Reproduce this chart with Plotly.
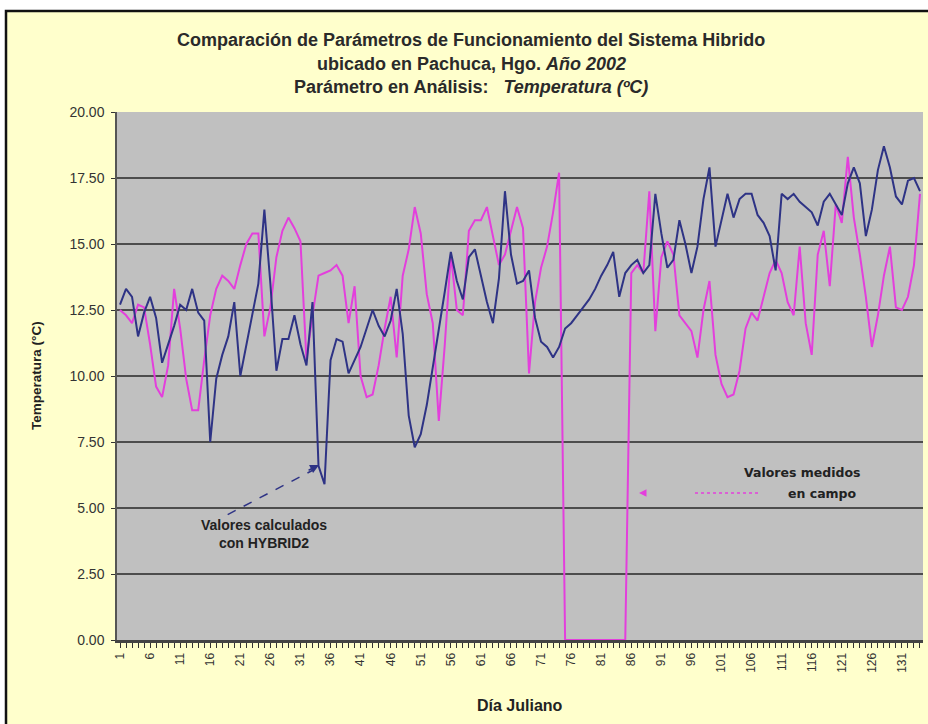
import plotly.graph_objects as go

# dia juliano 1..134
dias = list(range(1, 135))

# valores calculados con HYBRID2
calculado = [
    12.7, 13.3, 13.0, 11.5, 12.4, 13.0, 12.2, 10.5, 11.2, 11.9,
    12.7, 12.5, 13.3, 12.4, 12.1, 7.5, 9.9, 10.8, 11.5, 12.8,
    10.0, 11.2, 12.3, 13.5, 16.3, 13.5, 10.2, 11.4, 11.4, 12.3,
    11.2, 10.4, 12.8, 6.6, 5.9, 10.6, 11.4, 11.3, 10.1, 10.6,
    11.1, 11.8, 12.5, 11.9, 11.5, 12.1, 13.3, 11.6, 8.5, 7.3,
    7.8, 8.9, 10.3, 11.7, 13.2, 14.7, 13.6, 12.9, 14.5, 14.8,
    13.8, 12.8, 12.0, 13.7, 17.0, 14.6, 13.5, 13.6, 14.0, 12.2,
    11.3, 11.1, 10.7, 11.1, 11.8, 12.0, 12.3, 12.6, 12.9, 13.3,
    13.8, 14.2, 14.7, 13.0, 13.9, 14.2, 14.4, 13.9, 14.2, 16.9,
    15.4, 14.1, 14.4, 15.9, 15.0, 13.9, 14.9, 16.7, 17.9, 14.9,
    15.9, 16.9, 16.0, 16.7, 16.9, 16.9, 16.1, 15.8, 15.3, 14.0,
    16.9, 16.7, 16.9, 16.6, 16.4, 16.2, 15.7, 16.6, 16.9, 16.5,
    16.1, 17.3, 17.9, 17.3, 15.3, 16.3, 17.8, 18.7, 17.9, 16.8,
    16.5, 17.4, 17.5, 17.0,
]

# valores medidos en campo
medido = [
    12.5, 12.3, 12.0, 12.7, 12.6, 11.2, 9.6, 9.2, 10.4, 13.3,
    11.8, 9.9, 8.7, 8.7, 10.6, 12.3, 13.3, 13.8, 13.6, 13.3,
    14.2, 15.0, 15.4, 15.4, 11.5, 12.6, 14.5, 15.5, 16.0, 15.6,
    15.1, 10.6, 12.3, 13.8, 13.9, 14.0, 14.2, 13.8, 12.0, 13.4,
    10.0, 9.2, 9.3, 10.4, 11.8, 13.0, 10.7, 13.8, 14.8, 16.4,
    15.4, 13.1, 12.0, 8.3, 11.2, 14.6, 12.5, 12.3, 15.5, 15.9,
    15.9, 16.4, 15.3, 14.2, 14.6, 15.5, 16.4, 15.6, 10.1, 12.8,
    14.1, 14.9, 16.2, 17.7, 0.0, 0.0, 0.0, 0.0, 0.0, 0.0,
    0.0, 0.0, 0.0, 0.0, 0.0, 13.9, 14.2, 13.9, 17.0, 11.7,
    14.5, 15.1, 14.6, 12.3, 12.0, 11.7, 10.7, 12.5, 13.6, 10.8,
    9.7, 9.2, 9.3, 10.2, 11.8, 12.4, 12.1, 13.0, 13.9, 14.4,
    13.9, 12.8, 12.3, 14.9, 12.0, 10.8, 14.6, 15.5, 13.4, 16.5,
    15.8, 18.3, 16.0, 14.6, 13.0, 11.1, 12.3, 13.8, 14.9, 12.6,
    12.5, 13.0, 14.2, 16.9,
]

etiquetas_x = list(range(1, 132, 5))
ticks_y = [0, 2.5, 5, 7.5, 10, 12.5, 15, 17.5, 20]

FONT = "Liberation Sans, Arial, sans-serif"
FONT_W = "DejaVu Sans, Verdana, sans-serif"
AZUL = "#2e3385"
ROSA = "#e33fdc"

W, H = 928, 724
L, R, T, B = 117, 5, 112, 84
PW, PH = W - L - R, H - T - B


def px_x(p):
    return (p - L) / PW


def px_y(p):
    return (H - B - p) / PH


fig = go.Figure()
fig.add_trace(go.Scatter(x=dias, y=medido, mode="lines", name="Valores medidos en campo",
                         line=dict(color=ROSA, width=2)))
fig.add_trace(go.Scatter(x=dias, y=calculado, mode="lines", name="Valores calculados con HYBRID2",
                         line=dict(color=AZUL, width=2)))

fig.update_xaxes(
    range=[0.5, 134.5], tickvals=etiquetas_x, tickangle=-90,
    ticks="outside", ticklen=5, tickcolor="#333", tickwidth=1,
    minor=dict(dtick=1, ticks="outside", ticklen=5, tickcolor="#333", tickwidth=1),
    showgrid=False, zeroline=False, showline=True, linecolor="#444", linewidth=3,
    tickfont=dict(family=FONT, size=12, color="#333"), fixedrange=True, automargin=False)
fig.update_yaxes(
    range=[0, 20], tickvals=ticks_y, tickformat=".2f",
    ticks="outside", ticklen=4, tickcolor="#333", ticklabelstandoff=4,
    showgrid=True, gridcolor="#4d4d4d", gridwidth=2, zeroline=False,
    showline=True, linecolor="#555", linewidth=1.5,
    tickfont=dict(family=FONT, size=14, color="#333"), fixedrange=True, automargin=False)

fig.update_layout(
    width=W, height=H, margin=dict(l=L, r=R, t=T, b=B),
    paper_bgcolor="#ffffcc", plot_bgcolor="#c0c0c0",
    showlegend=False, font=dict(family=FONT, color="#222"),
)

# marco exterior
fig.add_shape(type="rect", xref="paper", yref="paper", x0=px_x(0), x1=px_x(W), y0=px_y(0), y1=px_y(10),
              fillcolor="white", line_width=0, layer="above")
fig.add_shape(type="rect", xref="paper", yref="paper", x0=px_x(0), x1=px_x(5), y0=px_y(H), y1=px_y(0),
              fillcolor="white", line_width=0, layer="above")
fig.add_shape(type="rect", xref="paper", yref="paper", x0=px_x(6), x1=px_x(W + 3), y0=px_y(H + 3), y1=px_y(11),
              line=dict(color="#111", width=2.5), layer="above")

titulos = [
    ("<b>Comparación de Parámetros de Funcionamiento del Sistema Hibrido</b>", 40),
    ("<b>ubicado en Pachuca, Hgo. <i>Año 2002</i></b>", 64),
    ("<b>Parámetro en Análisis:   <i>Temperatura (ºC)</i></b>", 87),
]
for txt, py in titulos:
    fig.add_annotation(text=txt, xref="paper", yref="paper", x=px_x(471), y=px_y(py),
                       xanchor="center", yanchor="middle",
                       showarrow=False, font=dict(family=FONT, size=18, color="#2a2a2a"))

fig.add_annotation(text="<b>Temperatura (°C)</b>", xref="paper", yref="paper", x=px_x(36), y=px_y(376),
                   xanchor="center", yanchor="middle",
                   textangle=-90, showarrow=False, font=dict(family=FONT, size=13.5, color="#222"))
fig.add_annotation(text="<b>Día Juliano</b>", xref="paper", yref="paper", x=px_x(520), y=px_y(705),
                   xanchor="center", yanchor="middle",
                   showarrow=False, font=dict(family=FONT, size=16, color="#222"))

# anotacion HYBRID2
fig.add_annotation(text="<b>Valores calculados<br>con HYBRID2</b>", x=25.0, y=4.03, showarrow=False,
                   xanchor="center", yanchor="middle",
                   font=dict(family=FONT, size=14, color="#222"))
fig.add_shape(type="line", x0=18.9, y0=4.75, x1=33.2, y1=6.45,
              line=dict(color=AZUL, width=1.5, dash="dash"))
fig.add_annotation(text="", x=34.1, y=6.63, ax=-12, ay=6, showarrow=True,
                   arrowhead=2, arrowsize=1.2, arrowwidth=1.5, arrowcolor=AZUL)

# anotacion medidos
fig.add_annotation(text="<b>Valores medidos</b>", xref="paper", yref="paper", x=px_x(802), y=px_y(472),
                   xanchor="center", yanchor="middle", showarrow=False,
                   font=dict(family=FONT_W, size=12.5, color="#222"))
fig.add_annotation(text="<b>en campo</b>", xref="paper", yref="paper", x=px_x(822), y=px_y(493),
                   xanchor="center", yanchor="middle", showarrow=False,
                   font=dict(family=FONT_W, size=12.5, color="#222"))
fig.add_shape(type="line", xref="paper", yref="paper", x0=px_x(695), y0=px_y(493), x1=px_x(758), y1=px_y(493),
              line=dict(color=ROSA, width=1.5, dash="dot"))
fig.add_annotation(text="", xref="paper", yref="paper", x=px_x(639), y=px_y(493), ax=8, ay=0, showarrow=True,
                   arrowhead=2, arrowsize=1, arrowwidth=1.5, arrowcolor=ROSA)

fig.write_html("out.html", config={"displayModeBar": False},
               post_script="document.body.style.margin='0px';")
